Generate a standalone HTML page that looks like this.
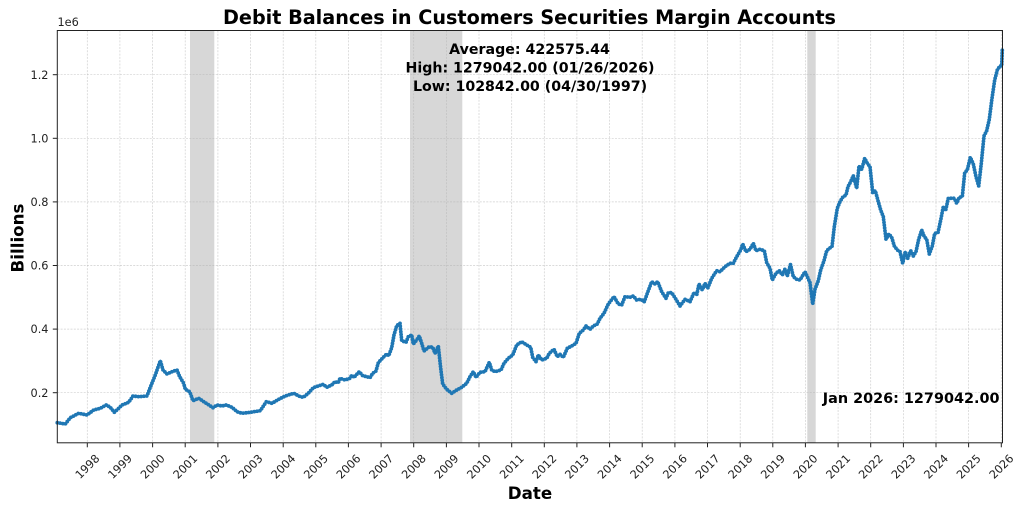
<!DOCTYPE html>
<html><head><meta charset="utf-8"><style>
html,body{margin:0;padding:0;background:#fff;}
svg{display:block;}
text{font-family:"DejaVu Sans","Liberation Sans",sans-serif;}
</style></head><body>
<svg width="1024" height="511" viewBox="0 0 1024 511" xmlns="http://www.w3.org/2000/svg" xmlns:xlink="http://www.w3.org/1999/xlink">
<defs>
<path id="s" d="M57.3,422.7 L65.3,424 70.3,417.7 78.7,413.3 87,415 93.7,410 100.3,408.3 106.3,405 110.3,407.3 114.3,412.3 118.7,408.3 122,405 128.7,402.3 133,396 138.7,396.7 147,396 150.3,387.3 155.3,375 160.3,360.7 163,370 167,374 172,371.7 177,370 179.7,376.7 183.7,383.3 185.3,389.3 189.7,391.7 193,400.7 198.7,398.3 205.3,402.7 213,407.7 217,405 222,406 226.3,405 232,407.3 237,411.7 242,413.3 250.3,412.3 260.3,410.7 266.3,401.7 272,403.3 278.7,399.3 285.3,396 293.7,393.3 300.3,396.7 303.3,397.3 308.3,393.3 313.3,387.7 318.3,386 323.3,384.3 326.7,387.3 331.7,385 335,381.7 338.3,382.7 340,378.3 345,380 350,378.3 351.7,375.3 354,377.3 359.3,371.7 362.7,375.7 366.7,376.7 370,377.7 372.7,373.3 376,371 378.3,362.7 383.3,357.3 386.7,354 388.7,355.7 391.7,347.7 394,335 396.7,325.7 400,323.3 401.7,340.7 406,342.3 408.3,336.7 411.7,335 413.3,344 416.7,340 419.3,336 421.7,343.3 424,351 429.3,346.7 432.7,347.3 435,353.3 438.3,346 440.7,368.3 442.7,384 446.7,389.3 451.7,393.3 456.7,390 461.7,387.3 466.7,383.3 470,376.7 473.3,371.7 476,377.3 480,372.3 485,371.7 489.3,362.3 491.7,370 495,371.7 501,370 504,363.3 508.3,358.3 512.7,355 516.7,345 521.7,341.7 526.7,345 530.7,347.3 532.7,357.3 536,361.7 538.3,355 541.7,360 546.7,358.3 549.3,353.3 554,349.3 557.3,356.7 560,354.3 563.3,357.3 567.3,348.3 571.7,346 576,343.3 579.3,333.3 583.3,330 586,326 590,329.3 593.3,326 597.3,324 600,318.3 604,313.3 608.3,304 614,296.7 618.3,304 621.7,305 625,296.7 630,297.3 633.3,296 636.7,300 640.7,299.3 644.3,301.7 647.3,293.3 651.7,281.7 655,284 657.7,281.7 661.7,291.7 666,298.3 668.3,292.7 671.7,292.7 676,299.3 680,306 685,299.3 690,301.7 694,292.7 696.7,295 699,284 702.3,290 705,283.3 707.7,288.3 711.7,278.3 716.7,270.7 720,271.7 725,266.7 730,263.3 733.3,263.3 736.7,256.7 740.7,250 742.7,244 746,251.7 750,249.3 753.3,243.3 756,250.7 760,249.3 764.3,250.7 766.7,262.7 770,268.3 772.3,280 776,273.3 779.3,270.7 782.3,275 785,269 787.3,276 790.5,264.5 793.3,276.7 796.7,279.3 800,280 805,271.7 807.3,276.7 810,282.7 812.7,304 815,289.3 818.3,280.7 820.7,270 824,260.7 826.7,250.7 829.3,248.3 832,246.7 834.3,226.7 837.3,208.3 840,201.7 842.7,197.3 846,195 848,186.7 850.7,181.7 853.3,175.7 856.7,188.3 859,166 861.7,169.3 864.7,158.3 867.3,163.3 870,166.7 872.7,192.7 875.3,190.7 878.3,201.7 880.7,210 883.3,216.7 886,239.3 889,234 891.7,237.3 894.3,246 897.3,250 900,251.7 902.7,263.3 905.3,251.7 907.7,258.3 910.7,250.7 913.3,256 916,251.7 918.7,239.3 921.7,230 924.3,236.7 926.7,239.3 929.3,254 932.3,246 934.7,233.3 938,232.7 940.7,220 943.3,206.7 945.7,210 948.3,198.3 951.7,198.3 954.3,198.3 956.7,203.3 959.3,197.3 962.3,196.7 964.7,172.7 967.3,170 970.3,157.3 973.3,164 976,176.7 978.7,186 981.3,163.3 984,136 986.7,130.7 989.3,119.3 992,98.3 994.7,80 997.3,70 1000,66 1001.7,66 1002.3,49.6"/>
</defs>
<rect width="1024" height="511" fill="#fff"/>
<!-- recession shading -->
<rect x="190" y="30.5" width="24.3" height="412.3" fill="#d7d7d7"/>
<rect x="410" y="30.5" width="52.3" height="412.3" fill="#d7d7d7"/>
<rect x="807.3" y="30.5" width="8.4" height="412.3" fill="#d7d7d7"/>
<!-- grid -->
<g stroke="#b0b0b0" stroke-opacity="0.6" stroke-width="0.7" stroke-dasharray="2 1.3">
<line x1="57.3" x2="1002.5" y1="392.7" y2="392.7"/>
<line x1="57.3" x2="1002.5" y1="329.1" y2="329.1"/>
<line x1="57.3" x2="1002.5" y1="265.5" y2="265.5"/>
<line x1="57.3" x2="1002.5" y1="201.9" y2="201.9"/>
<line x1="57.3" x2="1002.5" y1="138.3" y2="138.3"/>
<line x1="57.3" x2="1002.5" y1="74.7" y2="74.7"/>
<line y1="30.5" y2="442.8" x1="87.3" x2="87.3"/>
<line y1="30.5" y2="442.8" x1="119.9" x2="119.9"/>
<line y1="30.5" y2="442.8" x1="152.6" x2="152.6"/>
<line y1="30.5" y2="442.8" x1="185.2" x2="185.2"/>
<line y1="30.5" y2="442.8" x1="217.9" x2="217.9"/>
<line y1="30.5" y2="442.8" x1="250.5" x2="250.5"/>
<line y1="30.5" y2="442.8" x1="283.2" x2="283.2"/>
<line y1="30.5" y2="442.8" x1="315.8" x2="315.8"/>
<line y1="30.5" y2="442.8" x1="348.4" x2="348.4"/>
<line y1="30.5" y2="442.8" x1="381.1" x2="381.1"/>
<line y1="30.5" y2="442.8" x1="413.7" x2="413.7"/>
<line y1="30.5" y2="442.8" x1="446.4" x2="446.4"/>
<line y1="30.5" y2="442.8" x1="479.0" x2="479.0"/>
<line y1="30.5" y2="442.8" x1="511.7" x2="511.7"/>
<line y1="30.5" y2="442.8" x1="544.3" x2="544.3"/>
<line y1="30.5" y2="442.8" x1="576.9" x2="576.9"/>
<line y1="30.5" y2="442.8" x1="609.6" x2="609.6"/>
<line y1="30.5" y2="442.8" x1="642.2" x2="642.2"/>
<line y1="30.5" y2="442.8" x1="674.9" x2="674.9"/>
<line y1="30.5" y2="442.8" x1="707.5" x2="707.5"/>
<line y1="30.5" y2="442.8" x1="740.2" x2="740.2"/>
<line y1="30.5" y2="442.8" x1="772.8" x2="772.8"/>
<line y1="30.5" y2="442.8" x1="805.4" x2="805.4"/>
<line y1="30.5" y2="442.8" x1="838.1" x2="838.1"/>
<line y1="30.5" y2="442.8" x1="870.7" x2="870.7"/>
<line y1="30.5" y2="442.8" x1="903.4" x2="903.4"/>
<line y1="30.5" y2="442.8" x1="936.0" x2="936.0"/>
<line y1="30.5" y2="442.8" x1="968.6" x2="968.6"/>
<line y1="30.5" y2="442.8" x1="1001.3" x2="1001.3"/>
</g>
<!-- series -->
<use href="#s" xlink:href="#s" fill="none" stroke="#1f77b4" stroke-width="2.2" stroke-linejoin="round"/>
<use href="#s" xlink:href="#s" fill="none" stroke="#1f77b4" stroke-width="3.8" stroke-linecap="round" stroke-linejoin="round" stroke-dasharray="0 2.8"/>
<!-- spines -->
<rect x="57.3" y="30.5" width="945.2" height="412.3" fill="none" stroke="#222" stroke-width="1"/>
<!-- ticks -->
<g stroke="#222" stroke-width="1">
<line x1="52.8" x2="57.3" y1="392.7" y2="392.7"/>
<line x1="52.8" x2="57.3" y1="329.1" y2="329.1"/>
<line x1="52.8" x2="57.3" y1="265.5" y2="265.5"/>
<line x1="52.8" x2="57.3" y1="201.9" y2="201.9"/>
<line x1="52.8" x2="57.3" y1="138.3" y2="138.3"/>
<line x1="52.8" x2="57.3" y1="74.7" y2="74.7"/>
<g transform="translate(0,442.8)">
<line x1="87.3" x2="87.3" y2="4.5"/><line x1="119.9" x2="119.9" y2="4.5"/><line x1="152.6" x2="152.6" y2="4.5"/><line x1="185.2" x2="185.2" y2="4.5"/><line x1="217.9" x2="217.9" y2="4.5"/><line x1="250.5" x2="250.5" y2="4.5"/><line x1="283.2" x2="283.2" y2="4.5"/><line x1="315.8" x2="315.8" y2="4.5"/><line x1="348.4" x2="348.4" y2="4.5"/><line x1="381.1" x2="381.1" y2="4.5"/><line x1="413.7" x2="413.7" y2="4.5"/><line x1="446.4" x2="446.4" y2="4.5"/><line x1="479.0" x2="479.0" y2="4.5"/><line x1="511.7" x2="511.7" y2="4.5"/><line x1="544.3" x2="544.3" y2="4.5"/><line x1="576.9" x2="576.9" y2="4.5"/><line x1="609.6" x2="609.6" y2="4.5"/><line x1="642.2" x2="642.2" y2="4.5"/><line x1="674.9" x2="674.9" y2="4.5"/><line x1="707.5" x2="707.5" y2="4.5"/><line x1="740.2" x2="740.2" y2="4.5"/><line x1="772.8" x2="772.8" y2="4.5"/><line x1="805.4" x2="805.4" y2="4.5"/><line x1="838.1" x2="838.1" y2="4.5"/><line x1="870.7" x2="870.7" y2="4.5"/><line x1="903.4" x2="903.4" y2="4.5"/><line x1="936.0" x2="936.0" y2="4.5"/><line x1="968.6" x2="968.6" y2="4.5"/><line x1="1001.3" x2="1001.3" y2="4.5"/>
</g>
</g>
<!-- y tick labels -->
<g font-size="11.3" fill="#222" text-anchor="end">
<text x="48.5" y="396.8">0.2</text>
<text x="48.5" y="333.2">0.4</text>
<text x="48.5" y="269.6">0.6</text>
<text x="48.5" y="206">0.8</text>
<text x="48.5" y="142.4">1.0</text>
<text x="48.5" y="78.8">1.2</text>
</g>
<text x="57.5" y="26" font-size="11.3" fill="#222">1e6</text>
<!-- x tick labels -->
<g font-size="11.3" fill="#222" text-anchor="middle">
<text transform="translate(87.3,466.5) rotate(-45)" y="4">1998</text>
<text transform="translate(119.9,466.5) rotate(-45)" y="4">1999</text>
<text transform="translate(152.6,466.5) rotate(-45)" y="4">2000</text>
<text transform="translate(185.2,466.5) rotate(-45)" y="4">2001</text>
<text transform="translate(217.9,466.5) rotate(-45)" y="4">2002</text>
<text transform="translate(250.5,466.5) rotate(-45)" y="4">2003</text>
<text transform="translate(283.2,466.5) rotate(-45)" y="4">2004</text>
<text transform="translate(315.8,466.5) rotate(-45)" y="4">2005</text>
<text transform="translate(348.4,466.5) rotate(-45)" y="4">2006</text>
<text transform="translate(381.1,466.5) rotate(-45)" y="4">2007</text>
<text transform="translate(413.7,466.5) rotate(-45)" y="4">2008</text>
<text transform="translate(446.4,466.5) rotate(-45)" y="4">2009</text>
<text transform="translate(479.0,466.5) rotate(-45)" y="4">2010</text>
<text transform="translate(511.7,466.5) rotate(-45)" y="4">2011</text>
<text transform="translate(544.3,466.5) rotate(-45)" y="4">2012</text>
<text transform="translate(576.9,466.5) rotate(-45)" y="4">2013</text>
<text transform="translate(609.6,466.5) rotate(-45)" y="4">2014</text>
<text transform="translate(642.2,466.5) rotate(-45)" y="4">2015</text>
<text transform="translate(674.9,466.5) rotate(-45)" y="4">2016</text>
<text transform="translate(707.5,466.5) rotate(-45)" y="4">2017</text>
<text transform="translate(740.2,466.5) rotate(-45)" y="4">2018</text>
<text transform="translate(772.8,466.5) rotate(-45)" y="4">2019</text>
<text transform="translate(805.4,466.5) rotate(-45)" y="4">2020</text>
<text transform="translate(838.1,466.5) rotate(-45)" y="4">2021</text>
<text transform="translate(870.7,466.5) rotate(-45)" y="4">2022</text>
<text transform="translate(903.4,466.5) rotate(-45)" y="4">2023</text>
<text transform="translate(936.0,466.5) rotate(-45)" y="4">2024</text>
<text transform="translate(968.6,466.5) rotate(-45)" y="4">2025</text>
<text transform="translate(1001.3,466.5) rotate(-45)" y="4">2026</text>
</g>
<!-- title & labels -->
<text x="529.5" y="24" font-size="19.2" font-weight="bold" text-anchor="middle" fill="#000">Debit Balances in Customers Securities Margin Accounts</text>
<text x="530" y="499" font-size="16.7" font-weight="bold" text-anchor="middle" fill="#000">Date</text>
<text transform="translate(23.3,238) rotate(-90)" font-size="16.7" font-weight="bold" text-anchor="middle" fill="#000">Billions</text>
<!-- annotations -->
<g font-size="14.2" font-weight="bold" text-anchor="middle" fill="#000">
<text x="529.5" y="54">Average: 422575.44</text>
<text x="530" y="72.5">High: 1279042.00 (01/26/2026)</text>
<text x="530" y="90.8">Low: 102842.00 (04/30/1997)</text>
</g>
<text x="999.5" y="403" font-size="14.4" font-weight="bold" text-anchor="end" fill="#000">Jan 2026: 1279042.00</text>
</svg>
</body></html>
